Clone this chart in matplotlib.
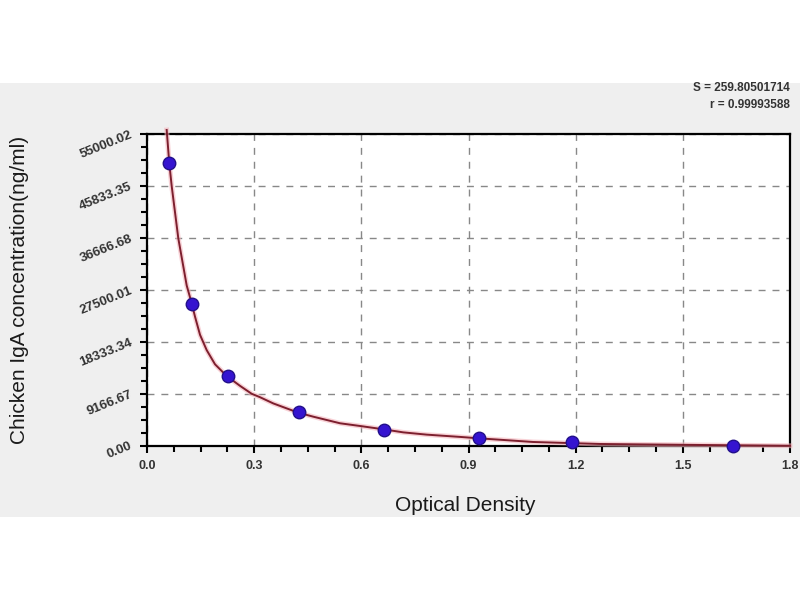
import numpy as np
import matplotlib
matplotlib.use("Agg")
import matplotlib.pyplot as plt
from matplotlib.patches import Rectangle
from matplotlib.ticker import MultipleLocator

plt.rcParams['font.family'] = ['Liberation Sans', 'DejaVu Sans']

# standard points (OD vs concentration)
od = [0.062, 0.126, 0.227, 0.426, 0.664, 0.930, 1.190, 1.640]
conc = [49834, 25000, 12340, 6000, 2820, 1410, 705, 0]

# fitted curve
curve_x = [0.0551, 0.0624, 0.0691, 0.0876, 0.1111, 0.1251, 0.1344, 0.1484,
           0.1671, 0.1904, 0.2231, 0.2604, 0.2931, 0.3163, 0.3536, 0.4236,
           0.4655, 0.5404, 0.5963, 0.6615, 0.7175, 0.7830, 0.8762, 0.9275,
           0.9694, 1.0806, 1.2682, 1.5529, 1.80]
curve_y = [55705, 49834, 45833, 36614, 28300, 25155, 22800, 19600,
           16900, 14400, 12340, 10600, 9200, 8600, 7500, 5870,
           5165, 4002, 3526, 2944, 2400, 2000, 1600, 1357,
           1181, 705, 353, 176, 40]

xticks = [0.0, 0.3, 0.6, 0.9, 1.2, 1.5, 1.8]
xtick_labels = ["0.0", "0.3", "0.6", "0.9", "1.2", "1.5", "1.8"]
yticks = [0.0, 9166.67, 18333.34, 27500.01, 36666.68, 45833.35, 55000.02]
ytick_labels = ["0.00", "9166.67", "18333.34", "27500.01", "36666.68", "45833.35", "55000.02"]

fig = plt.figure(figsize=(8, 6), dpi=100)
fig.patch.set_facecolor('white')
fig.patches.append(Rectangle((0, 0.1383), 1, 0.7234, transform=fig.transFigure,
                             facecolor='#efefef', edgecolor='none', zorder=-10))

ax = fig.add_axes([0.18375, 0.2567, 0.80375, 0.52])
ax.set_facecolor('white')

ax.plot(curve_x, curve_y, color='#f4b4bc', lw=3.5, alpha=0.6, clip_on=False, zorder=3)
ax.plot(curve_x, curve_y, color='#7d1f2e', lw=1.4, clip_on=False, zorder=4)
ax.plot(od, conc, linestyle='none', marker='o', markersize=9,
        markerfacecolor='#3514d0', markeredgecolor='#22108a', markeredgewidth=1,
        clip_on=False, zorder=5)

ax.set_xlim(0, 1.8)
ax.set_ylim(0, 55000.02)
ax.set_xticks(xticks)
ax.set_xticklabels(xtick_labels, fontsize=9, fontweight='bold', color='#333333')
ax.set_yticks(yticks)
ax.set_yticklabels(ytick_labels, fontsize=9.5, fontweight='bold', color='#333333',
                   rotation=22, ha='right', va='center', rotation_mode='anchor')
ax.xaxis.set_minor_locator(MultipleLocator(0.075))
ax.yaxis.set_minor_locator(MultipleLocator(55000.02 / 24))
ax.tick_params(which='major', direction='out', length=5, width=1.5, color='black')
ax.tick_params(which='minor', direction='out', length=4, width=1.5, color='black')
ax.tick_params(axis='x', pad=5)
ax.tick_params(axis='y', pad=6)

ax.grid(True, which='major', linestyle=(0, (5, 5)), color='#888888', linewidth=1)
for s in ax.spines.values():
    s.set_linewidth(1.6)
    s.set_color('black')

ax.set_xlabel("Optical Density", fontsize=15, color='#1a1a1a')
ax.set_ylabel("Chicken IgA concentration(ng/ml)", fontsize=15, color='#1a1a1a')
ax.xaxis.set_label_coords(0.495, -0.16)
ax.yaxis.set_label_coords(-0.1835, 0.5)

fig.text(0.9875, 0.853, "S = 259.80501714", ha='right', va='center',
         fontsize=8.5, fontweight='bold', color='#333333')
fig.text(0.9875, 0.825, "r = 0.99993588", ha='right', va='center',
         fontsize=8.5, fontweight='bold', color='#333333')

fig.savefig("out.png", dpi=100, facecolor='white')
